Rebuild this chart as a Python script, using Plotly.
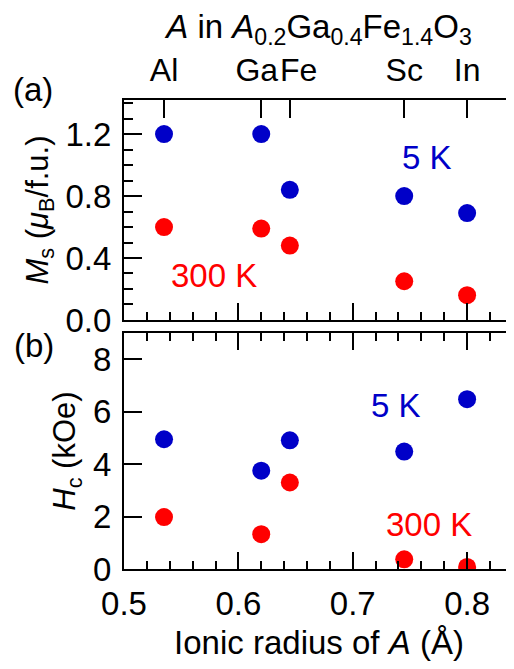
import plotly.graph_objects as go

# ---- data ----
elements = ["Al", "Ga", "Fe", "Sc", "In"]
# tick labels for the top axis (Ga/Fe nudged apart with non-breaking spaces, as in the figure)
element_ticktext = ["Al", "Ga\u00a0", "\u00a0\u00a0Fe", "Sc", "In"]
ionic_radius = [0.535, 0.62, 0.645, 0.745, 0.80]
ms_5K = [1.20, 1.20, 0.84, 0.80, 0.69]
ms_300K = [0.60, 0.59, 0.48, 0.25, 0.16]
hc_5K = [4.95, 3.75, 4.91, 4.48, 6.48]
hc_300K = [1.98, 1.33, 3.30, 0.37, 0.08]

BLUE = "#0000C8"
RED = "#FF0000"
FONT = "Liberation Sans, Arial, sans-serif"
FS = 33      # tick labels / annotations
FT = 31      # y-axis titles

fig = go.Figure()
fig.add_trace(go.Scatter(x=ionic_radius, y=ms_5K, mode="markers", xaxis="x2", yaxis="y2",
                         marker=dict(color=BLUE, size=18), showlegend=False))
fig.add_trace(go.Scatter(x=ionic_radius, y=ms_300K, mode="markers", xaxis="x3", yaxis="y2",
                         marker=dict(color=RED, size=18), showlegend=False))
fig.add_trace(go.Scatter(x=ionic_radius, y=hc_5K, mode="markers", xaxis="x", yaxis="y",
                         marker=dict(color=BLUE, size=18), showlegend=False))
fig.add_trace(go.Scatter(x=ionic_radius, y=hc_300K, mode="markers", xaxis="x", yaxis="y",
                         marker=dict(color=RED, size=18), showlegend=False))

XR = [0.5, 0.841]
axcommon = dict(showline=True, linewidth=2, linecolor="black", ticks="inside",
                tickwidth=2, tickcolor="black", showgrid=False, zeroline=False,
                automargin=False, tickangle=0)
tf = dict(family=FONT, size=FS, color="black")

top_dom = [0.531, 1.0]
bot_dom = [0.0, 0.503]

# page has an 8px body margin: compensate so the plot area sits at x 124-514, y 100-569
W, H = 506, 661
L, T, R, B = 116, 92, 0, 100

fig.update_layout(
    width=W, height=H,
    margin=dict(l=L, r=R, t=T, b=B, autoexpand=False),
    plot_bgcolor="white", paper_bgcolor="white",
    font=dict(family=FONT, size=FS, color="black"),
    # bottom panel
    xaxis=dict(**axcommon, tickfont=tf, domain=[0, 1], anchor="y", range=XR, tick0=0.5, dtick=0.1,
               ticklen=17, mirror="ticks", tickformat=".1f", ticklabelstandoff=4,
               minor=dict(dtick=0.02, tick0=0.5, ticklen=8, tickwidth=2, ticks="inside", tickcolor="black"),
               title=dict(text="Ionic radius of <i>A</i> (Å)", font=dict(family=FONT, size=FS), standoff=10)),
    yaxis=dict(**axcommon, tickfont=tf, domain=bot_dom, anchor="x", range=[0, 9], tick0=0, dtick=2, ticklen=18,
               ticklabelstandoff=4,
               title=dict(text="<i>H</i><sub>c</sub> (kOe)", font=dict(family=FONT, size=FT), standoff=8)),
    yaxis3=dict(**axcommon, overlaying="y", side="right", anchor="x", range=[0, 3.5], tick0=0, dtick=1,
                ticklen=18, showticklabels=False,
                minor=dict(dtick=0.5, tick0=0, ticklen=10, tickwidth=2, ticks="inside", tickcolor="black")),
    # top panel
    xaxis2=dict(**axcommon, domain=[0, 1], anchor="y2", range=XR, tick0=0.5, dtick=0.1, ticklen=17,
                showticklabels=False,
                minor=dict(dtick=0.02, tick0=0.5, ticklen=8, tickwidth=2, ticks="inside", tickcolor="black")),
    yaxis2=dict(**axcommon, tickfont=tf, domain=top_dom, anchor="x2", range=[0, 1.42], tick0=0, dtick=0.4, ticklen=18,
                tickformat=".1f", ticklabelstandoff=4,
                minor=dict(dtick=0.1, tick0=0, ticklen=9, tickwidth=2, ticks="inside", tickcolor="black"),
                title=dict(text="<i>M</i><sub>s</sub> (<i>μ</i><sub>B</sub>/f.u.)", font=dict(family=FONT, size=FT), standoff=8)),
    yaxis4=dict(**axcommon, overlaying="y2", side="right", anchor="x2", range=[0, 3.25], tick0=0, dtick=1,
                ticklen=18, showticklabels=False,
                minor=dict(dtick=0.25, tick0=0, ticklen=10, tickwidth=2, ticks="inside", tickcolor="black")),
    xaxis3=dict(**axcommon, overlaying="x2", side="top", anchor="y2", range=XR,
                tickmode="array", tickvals=ionic_radius, ticktext=element_ticktext, ticklen=18,
                ticklabelstandoff=4, tickfont=dict(family=FONT, size=32, color="black"),
                title=dict(text="<i>A</i> in <i>A</i><sub>0.2</sub>Ga<sub>0.4</sub>Fe<sub>1.4</sub>O<sub>3</sub>",
                           font=dict(family=FONT, size=FS), standoff=8)),
)

ann_font = dict(family=FONT, size=FS)
fig.add_annotation(text="5 K", x=0.765, y=1.05, xref="x2", yref="y2", showarrow=False,
                   font=dict(**ann_font, color=BLUE))
fig.add_annotation(text="300 K", x=0.579, y=0.284, xref="x2", yref="y2", showarrow=False,
                   font=dict(**ann_font, color=RED))
fig.add_annotation(text="5 K", x=0.7375, y=6.22, xref="x", yref="y", showarrow=False,
                   font=dict(**ann_font, color=BLUE))
fig.add_annotation(text="300 K", x=0.767, y=1.68, xref="x", yref="y", showarrow=False,
                   font=dict(**ann_font, color=RED))
# panel labels, given as page pixel centres, converted to paper coordinates
PAGE_L, PAGE_B, PW, PH = 124, 569, 390, 469
for txt, px, py in [("(a)", 33, 90), ("(b)", 34, 345)]:
    fig.add_annotation(text=txt, x=(px - PAGE_L) / PW, y=(PAGE_B - py) / PH,
                       xref="paper", yref="paper", xanchor="center", yanchor="middle",
                       showarrow=False, font=ann_font)

fig.write_html("out.html")
